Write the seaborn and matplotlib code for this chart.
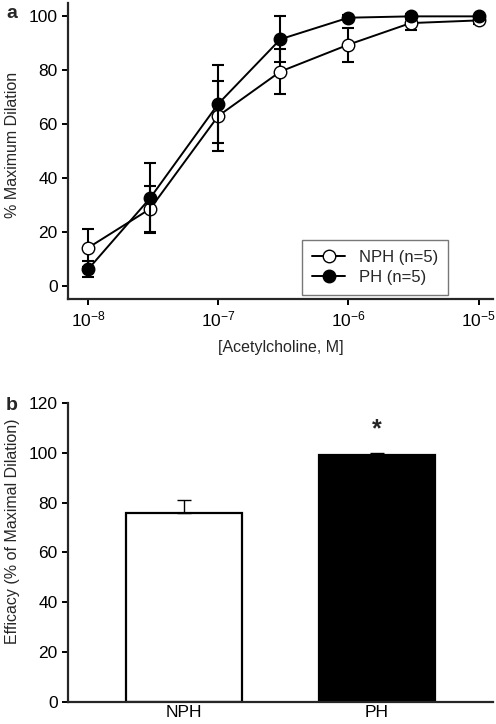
import numpy as np
import pandas as pd
import seaborn as sns
import matplotlib.pyplot as plt

# panel a: concentration-response
conc = [1e-8, 3e-8, 1e-7, 3e-7, 1e-6, 3e-6, 1e-5]
nph_mean = [14, 28.5, 63, 79.5, 89.5, 97.5, 98.5]
nph_sem = [7, 8.5, 13, 8.5, 6.3, 2.5, 1.5]
ph_mean = [6, 32.5, 67.5, 91.5, 99.5, 100, 100]
ph_sem = [3, 13, 14.5, 8.5, 1, 0.8, 0.5]
xtick_vals = [1e-8, 1e-7, 1e-6, 1e-5]
xtick_labels = [r"$\mathregular{10^{-8}}$", r"$\mathregular{10^{-7}}$",
                r"$\mathregular{10^{-6}}$", r"$\mathregular{10^{-5}}$"]

# panel b: efficacy
groups = ["NPH", "PH"]
efficacy = [76, 99]
efficacy_sem = [5, 1]

sns.set_theme(style="ticks")
plt.rcParams["font.family"] = ["Liberation Sans", "DejaVu Sans"]
plt.rcParams["axes.linewidth"] = 1.6
plt.rcParams["xtick.major.width"] = 1.4
plt.rcParams["ytick.major.width"] = 1.4
plt.rcParams["xtick.major.size"] = 4
plt.rcParams["ytick.major.size"] = 4

fig = plt.figure(figsize=(4.96, 7.24), dpi=100)
ax1 = fig.add_axes([0.137, 0.587, 0.857, 0.409])
ax2 = fig.add_axes([0.137, 0.0304, 0.857, 0.413])

df_a = pd.DataFrame({"conc": conc, "NPH": nph_mean, "PH": ph_mean})

ax1.errorbar(conc, nph_mean, yerr=nph_sem, fmt="none", ecolor="black",
             elinewidth=1.5, capsize=4, capthick=1.5, zorder=2)
sns.lineplot(data=df_a, x="conc", y="NPH", ax=ax1, color="black", lw=1.4,
             marker="o", markersize=9, markerfacecolor="white",
             markeredgecolor="black", markeredgewidth=1.0,
             label="NPH (n=5)", zorder=3)
ax1.errorbar(conc, ph_mean, yerr=ph_sem, fmt="none", ecolor="black",
             elinewidth=1.5, capsize=4, capthick=1.5, zorder=4)
sns.lineplot(data=df_a, x="conc", y="PH", ax=ax1, color="black", lw=1.4,
             marker="o", markersize=9, markerfacecolor="black",
             markeredgecolor="black", markeredgewidth=1.0,
             label="PH (n=5)", zorder=5)

ax1.set_xscale("log")
ax1.set_xlim(10 ** -8.154, 10 ** -4.89)
ax1.set_ylim(-5, 105)
ax1.set_xticks(xtick_vals)
ax1.set_xticklabels(xtick_labels)
ax1.minorticks_off()
ax1.set_yticks([0, 20, 40, 60, 80, 100])
ax1.tick_params(labelsize=12.5, colors="black")
ax1.set_xlabel("[Acetylcholine, M]", fontsize=11.5, labelpad=8)
ax1.set_ylabel("% Maximum Dilation", fontsize=11.5)
ax1.yaxis.set_label_coords(-0.112, 0.52)
leg = ax1.legend(loc="lower right", bbox_to_anchor=(0.894, 0.013),
                 borderaxespad=0, fontsize=12, frameon=True, fancybox=False,
                 handlelength=2.0, borderpad=0.6, labelspacing=0.3)
leg.get_frame().set_edgecolor("#555555")
leg.get_frame().set_linewidth(1.0)
sns.despine(ax=ax1)

df_b = pd.DataFrame({"group": groups, "efficacy": efficacy})
sns.barplot(data=df_b, x="group", y="efficacy", hue="group", ax=ax2,
            palette=["white", "black"], edgecolor="black", linewidth=1.6,
            width=0.6, legend=False, errorbar=None)
ax2.errorbar([0, 1], efficacy, yerr=[[0, 0], efficacy_sem], fmt="none",
             ecolor="black", elinewidth=1.0, capsize=5, capthick=1.0, zorder=1)
ax2.text(1, 109.5, "*", ha="center", va="center", fontsize=18, fontweight="bold")
ax2.set_xlim(-0.6, 1.6)
ax2.set_ylim(0, 120)
ax2.set_yticks([0, 20, 40, 60, 80, 100, 120])
ax2.tick_params(axis="x", length=0, labelsize=12.5, colors="black", pad=2)
ax2.tick_params(axis="y", labelsize=12.5, colors="black")
ax2.set_xlabel("")
ax2.set_ylabel("Efficacy (% of Maximal Dilation)", fontsize=11.5)
ax2.yaxis.set_label_coords(-0.112, 0.572)
sns.despine(ax=ax2)

fig.text(0.012, 0.993, "a", fontsize=14, fontweight="bold", va="top")
fig.text(0.012, 0.452, "b", fontsize=14, fontweight="bold", va="top")

fig.savefig("out.png", dpi=100)
